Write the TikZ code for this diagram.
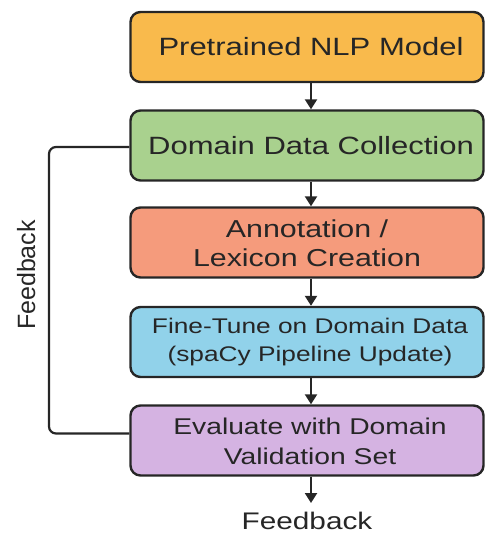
\documentclass[tikz,border=0pt]{standalone}
\usepackage{fontspec}
\setmainfont{Liberation Sans}
\newfontfamily\widesans{Liberation Sans}[FakeStretch=1.24]
\usetikzlibrary{arrows.meta}
\definecolor{cOrange}{HTML}{F9BA4C}
\definecolor{cGreen}{HTML}{A9D18E}
\definecolor{cSalmon}{HTML}{F59B7C}
\definecolor{cBlue}{HTML}{91D2EA}
\definecolor{cPurple}{HTML}{D5B3E2}
\definecolor{cLine}{HTML}{262626}
\tikzset{
  stage/.style={draw=cLine, line width=2.4pt, rounded corners=10pt,
    minimum width=353pt, minimum height=70pt, align=center,
    text=cLine, inner sep=0pt},
  label/.style={text=cLine, inner sep=0pt},
  flow/.style={draw=cLine, line width=2.2pt, -{Triangle[length=10pt,width=12pt]}},
  loop/.style={draw=cLine, line width=2.2pt, rounded corners=7pt},
}
\begin{document}
\begin{tikzpicture}[x=1pt,y=-1pt]
\useasboundingbox (0,0) rectangle (485,534);
% pipeline stages
\node[stage, fill=cOrange] (pre) at (307,47) {};
\node[stage, fill=cGreen] (dom) at (307,145.5) {};
\node[stage, fill=cSalmon] (ann) at (307,242.5) {};
\node[stage, fill=cBlue] (ft) at (307,342) {};
\node[stage, fill=cPurple] (ev) at (307,440.5) {};
% stage texts
\node[label, align=center, font=\widesans\fontsize{25}{29}\selectfont] (preT) at (311,47) {Pretrained NLP Model};
\node[label, align=center, font=\widesans\fontsize{25}{29}\selectfont] (domT) at (311,145.5) {Domain Data Collection};
\node[label, align=center, font=\widesans\fontsize{24.5}{29}\selectfont] (annT) at (307,243) {Annotation /\\Lexicon Creation};
\node[label, align=center, font=\widesans\fontsize{21.2}{28}\selectfont] (ftT) at (310,342) {Fine-Tune on Domain Data\\(spaCy Pipeline Update)};
\node[label, align=center, font=\widesans\fontsize{22.8}{30}\selectfont] (evT) at (310,441.5) {Evaluate with Domain\\Validation Set};
% feedback labels
\node[label, font=\widesans\fontsize{24}{28}\selectfont, anchor=base] (fb) at (307,529) {Feedback};
\node[label, font=\fontsize{25}{29}\selectfont, rotate=90, anchor=base] (side) at (35,275) {Feedback};
\coordinate (evEnd) at (311,503);
% forward flow
\draw[flow] (pre.south -| evEnd) -- (dom.north -| evEnd);
\draw[flow] (dom.south -| evEnd) -- (ann.north -| evEnd);
\draw[flow] (ann.south -| evEnd) -- (ft.north -| evEnd);
\draw[flow] (ft.south -| evEnd) -- (ev.north -| evEnd);
\draw[flow] (ev.south -| evEnd) -- (evEnd);
% feedback loop
\draw[loop] ([yshift=7pt]ev.west) -| (49,300) |- ([yshift=-1.5pt]dom.west);
\end{tikzpicture}
\end{document}
